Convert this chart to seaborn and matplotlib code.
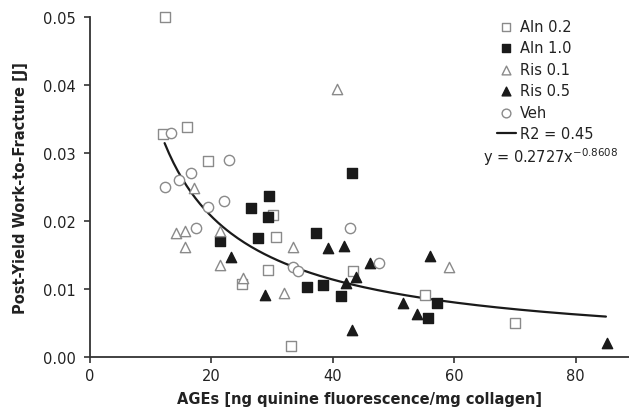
import numpy as np
import pandas as pd
import matplotlib
matplotlib.use("Agg")
import matplotlib.pyplot as plt
import seaborn as sns

# values
aln02_x = [12.4, 12.1, 16.0, 19.4, 30.1, 30.6, 25.0, 29.3, 43.4, 33.2, 55.2, 70.1]
aln02_y = [0.0500, 0.0328, 0.0338, 0.0288, 0.0209, 0.0177, 0.0107, 0.0128, 0.0127, 0.0017, 0.0091, 0.0050]

aln10_x = [43.1, 29.5, 26.5, 29.4, 21.4, 27.7, 37.2, 35.8, 38.4, 41.3, 57.2, 55.7]
aln10_y = [0.0271, 0.0237, 0.0219, 0.0206, 0.0170, 0.0175, 0.0182, 0.0103, 0.0106, 0.0090, 0.0080, 0.0058]

ris01_x = [40.7, 17.1, 14.1, 15.6, 15.6, 21.5, 33.4, 21.5, 25.2, 32.0, 59.2]
ris01_y = [0.0394, 0.0248, 0.0183, 0.0185, 0.0162, 0.0185, 0.0162, 0.0136, 0.0116, 0.0094, 0.0132]

ris05_x = [23.3, 28.9, 39.2, 41.9, 42.1, 43.9, 46.2, 43.1, 56.0, 51.5, 53.9, 85.1]
ris05_y = [0.0147, 0.0091, 0.0161, 0.0163, 0.0109, 0.0118, 0.0139, 0.0040, 0.0148, 0.0079, 0.0063, 0.0020]

veh_x = [13.3, 22.9, 16.7, 14.7, 12.4, 19.4, 22.1, 17.4, 42.8, 33.4, 34.2, 47.6]
veh_y = [0.0329, 0.0289, 0.0271, 0.0260, 0.0250, 0.0220, 0.0229, 0.0189, 0.0189, 0.0133, 0.0126, 0.0139]

fit_a = 0.2727
fit_b = -0.8608
fit_r2 = 0.45
fit_range = (12.3, 85.0)

groups = [
    ("Aln 0.2", aln02_x, aln02_y, "s", "white", "#8a8a8a"),
    ("Aln 1.0", aln10_x, aln10_y, "s", "#1a1a1a", "#1a1a1a"),
    ("Ris 0.1", ris01_x, ris01_y, "^", "white", "#8a8a8a"),
    ("Ris 0.5", ris05_x, ris05_y, "^", "#1a1a1a", "#1a1a1a"),
    ("Veh", veh_x, veh_y, "o", "white", "#8a8a8a"),
]

sns.set_style("ticks")
plt.rcParams["font.family"] = ["DejaVu Sans"]

fig = plt.figure(figsize=(6.29, 4.14), dpi=100)
ax = fig.add_axes([0.143, 0.135, 0.857, 0.822])

for name, xs, ys, marker, face, edge in groups:
    df = pd.DataFrame({"x": xs, "y": ys})
    sns.scatterplot(
        data=df, x="x", y="y", ax=ax,
        marker=marker, s=55, color=face, edgecolor=edge,
        linewidth=1.0, label=name, zorder=3, clip_on=False,
    )

fit_x = np.linspace(fit_range[0], fit_range[1], 200)
fit_df = pd.DataFrame({"x": fit_x, "y": fit_a * fit_x ** fit_b})
sns.lineplot(data=fit_df, x="x", y="y", ax=ax, color="#1a1a1a",
             linewidth=1.6, label=f"R2 = {fit_r2:.2f}", zorder=2)

ax.set_xlim(0, 88.8)
ax.set_ylim(0, 0.05)
ax.set_xticks([0, 20, 40, 60, 80])
ax.set_yticks([0, 0.01, 0.02, 0.03, 0.04, 0.05])
ax.set_yticklabels([f"{v:.2f}" for v in ax.get_yticks()])
ax.tick_params(axis="both", labelsize=10.5, length=4, width=1.2, color="#333333",
               labelcolor="#222222")
ax.tick_params(axis="y", pad=6)
for side in ("left", "bottom"):
    ax.spines[side].set_linewidth(1.3)
    ax.spines[side].set_color("#333333")
sns.despine(ax=ax)

ax.set_xlabel("AGEs [ng quinine fluorescence/mg collagen]", fontsize=10.5,
              fontweight="bold", color="#222222", labelpad=6)
ax.set_ylabel("Post-Yield Work-to-Fracture [J]", fontsize=10.5,
              fontweight="bold", color="#222222", labelpad=11)

leg = ax.legend(loc="upper right", bbox_to_anchor=(0.945, 1.012), frameon=False,
                fontsize=10.5, handlelength=1.3, handletextpad=0.3,
                labelspacing=0.45, borderaxespad=0, markerscale=0.85)
for t in leg.get_texts():
    t.set_color("#222222")

ax.text(0.98, 0.59, f"y = {fit_a}x$^{{{fit_b}}}$", transform=ax.transAxes,
        ha="right", va="center", fontsize=10.5, color="#222222")

fig.savefig("out.png", dpi=100)
